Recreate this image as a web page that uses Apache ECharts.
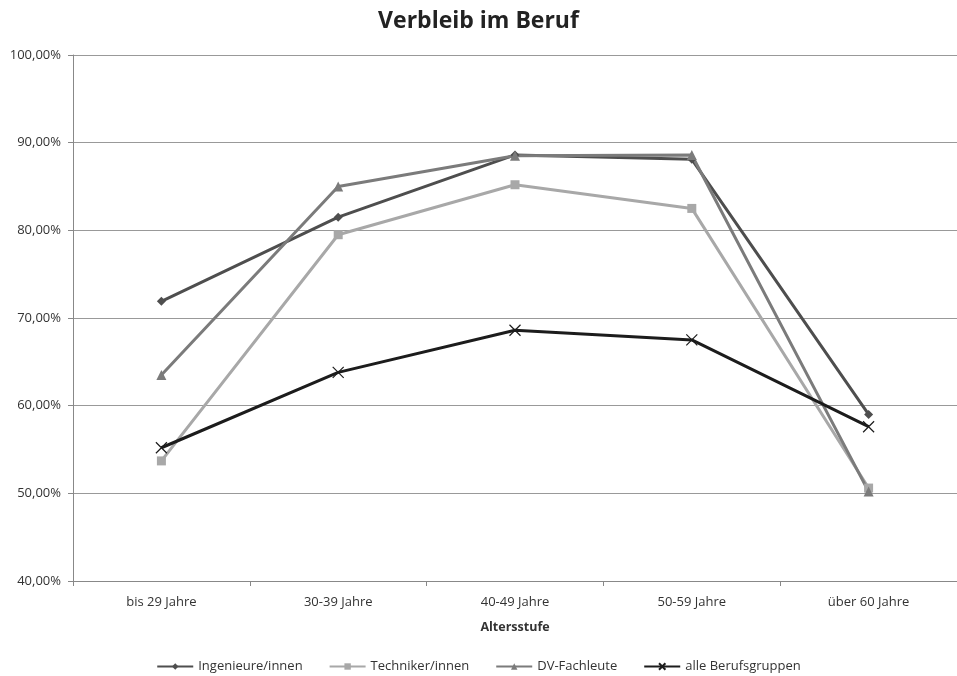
<!DOCTYPE html>
<html>
<head>
<meta charset="utf-8">
<script src="https://cdn.jsdelivr.net/npm/echarts@6/dist/echarts.min.js"></script>
<style>
  html, body { margin: 0; padding: 0; background: #fff; }
  #chart { width: 957px; height: 676px; }
</style>
</head>
<body>
<div id="chart"></div>
<script>
// Altersstufen (x-axis categories)
const categories = ['bis 29 Jahre', '30-39 Jahre', '40-49 Jahre', '50-59 Jahre', 'über 60 Jahre'];

// Anteil der Personen, die im Beruf verbleiben (in %)
const ingenieure = [71.9, 81.5, 88.6, 88.1, 59.0];
const techniker = [53.7, 79.5, 85.2, 82.5, 50.6];
const dvFachleute = [63.5, 85.0, 88.5, 88.6, 50.2];
const alleBerufsgruppen = [55.2, 63.8, 68.6, 67.5, 57.6];

const seriesNames = ['Ingenieure/innen', 'Techniker/innen', 'DV-Fachleute', 'alle Berufsgruppen'];

const FONT = '"Open Sans", "Noto Sans", sans-serif';

const chart = echarts.init(document.getElementById('chart'));

function lineSeries(name, data, color, symbol, symbolSize, width) {
  return {
    name: name,
    type: 'line',
    data: data,
    symbol: symbol,
    symbolSize: symbolSize,
    showSymbol: true,
    lineStyle: { color: color, width: width },
    itemStyle: { color: color, borderWidth: 0 },
    emphasis: { disabled: true }
  };
}

// x-shaped marker for the "alle Berufsgruppen" line
const crossPath = 'path://M0,0 L10,10 M10,0 L0,10';

chart.setOption({
  animation: false,
  title: {
    text: 'Verbleib im Beruf',
    left: 'center',
    top: 5,
    textStyle: { fontFamily: FONT, fontSize: 23, fontWeight: 'bold', color: '#222' }
  },
  legend: {
    bottom: -2,
    itemWidth: 36,
    itemHeight: 8,
    itemGap: 26,
    textStyle: { fontFamily: FONT, fontSize: 13, color: '#333' },
    data: seriesNames
  },
  grid: { left: 73, right: 0, top: 55, bottom: 95 },
  xAxis: {
    type: 'category',
    data: categories,
    boundaryGap: true,
    name: 'Altersstufe',
    nameLocation: 'middle',
    nameGap: 40,
    nameTextStyle: { fontFamily: FONT, fontSize: 12.5, fontWeight: 'bold', color: '#333' },
    axisLine: { lineStyle: { color: '#888', width: 1 } },
    axisTick: { show: true, length: 5, lineStyle: { color: '#888' } },
    axisLabel: { fontFamily: FONT, fontSize: 13, color: '#333', margin: 15 }
  },
  yAxis: {
    type: 'value',
    min: 40,
    max: 100,
    interval: 10,
    axisLine: { show: true, lineStyle: { color: '#888', width: 1 } },
    axisTick: { show: true, length: 5, lineStyle: { color: '#888' } },
    splitLine: { lineStyle: { color: '#999', width: 1 } },
    axisLabel: {
      fontFamily: FONT, fontSize: 13, color: '#333', margin: 12,
      formatter: v => v.toFixed(2).replace('.', ',') + '%'
    }
  },
  series: [
    lineSeries(seriesNames[0], ingenieure, '#4e4e4e', 'diamond', 9, 3),
    lineSeries(seriesNames[1], techniker, '#a8a8a8', 'rect', 9, 3),
    lineSeries(seriesNames[2], dvFachleute, '#7b7b7b', 'triangle', 10, 3),
    Object.assign(lineSeries(seriesNames[3], alleBerufsgruppen, '#1c1c1c', crossPath, 11, 3), {
      itemStyle: { color: 'none', borderColor: '#1c1c1c', borderWidth: 1.2 }
    })
  ]
});
</script>
</body>
</html>
